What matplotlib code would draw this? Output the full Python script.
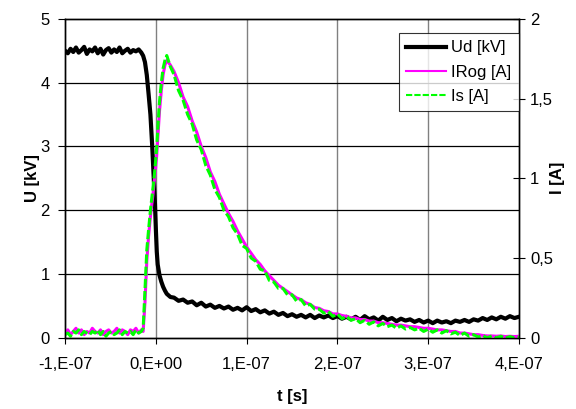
import numpy as np
import matplotlib
matplotlib.use("Agg")
import matplotlib.pyplot as plt

plt.rcParams['font.family'] = ['Liberation Sans', 'DejaVu Sans']

# time in ns (axis labelled in seconds)
t = [-100, -97, -94, -91, -88, -85, -82, -79, -76, -73, -70, -67, -64, -61, -58,
     -55, -52, -49, -46, -43, -40, -37, -34, -31, -28, -25, -22, -19, -16,
     -14, -12, -10, -8, -6, -4, -3, -2, -1, 0, 1, 2, 4, 6, 8, 10, 12, 16,
     20, 25, 30, 35, 40, 45, 50, 55, 60, 65, 70, 75, 80, 85, 90, 95, 100,
     105, 110, 115, 120, 125, 130, 135, 140, 145, 150, 155, 160, 165, 170,
     175, 180, 185, 190, 195, 200, 205, 210, 215, 220, 225, 230, 235, 240,
     245, 250, 255, 260, 265, 270, 275, 280, 285, 290, 295, 300, 305, 310,
     315, 320, 325, 330, 335, 340, 345, 350, 355, 360, 365, 370, 375, 380,
     385, 390, 395, 400]

ud_kv = [4.50, 4.46, 4.53, 4.48, 4.55, 4.47, 4.51, 4.56, 4.45, 4.52, 4.49, 4.55,
         4.46, 4.53, 4.44, 4.51, 4.54, 4.47, 4.52, 4.48, 4.55, 4.46, 4.50, 4.53,
         4.47, 4.51, 4.49, 4.52, 4.47,
         4.42, 4.32, 4.12, 3.82, 3.50, 3.00, 2.70, 2.40, 2.10, 1.70, 1.35, 1.15,
         0.98, 0.88, 0.80, 0.74, 0.69, 0.64,
         0.63, 0.58, 0.60, 0.55, 0.57, 0.51, 0.55, 0.49, 0.52, 0.47, 0.50, 0.46,
         0.49, 0.44, 0.47, 0.43, 0.48, 0.42, 0.45, 0.40, 0.43, 0.38, 0.41, 0.36,
         0.39, 0.34, 0.37, 0.33, 0.36, 0.32, 0.36, 0.31, 0.35, 0.32, 0.35, 0.31,
         0.34, 0.30, 0.33, 0.29, 0.33, 0.28, 0.34, 0.29, 0.32, 0.27, 0.33, 0.28,
         0.31, 0.26, 0.30, 0.27, 0.29, 0.25, 0.28, 0.24, 0.27, 0.23, 0.27, 0.24,
         0.26, 0.23, 0.27, 0.25, 0.28, 0.25, 0.29, 0.27, 0.31, 0.28, 0.32, 0.29,
         0.33, 0.30, 0.34, 0.31, 0.33]

irog_a = [0.03, 0.05, 0.02, 0.04, 0.06, 0.03, 0.05, 0.02, 0.04, 0.03, 0.06, 0.04,
          0.03, 0.05, 0.02, 0.04, 0.05, 0.03, 0.04, 0.06, 0.03, 0.05, 0.04, 0.02,
          0.05, 0.04, 0.06, 0.03, 0.05,
          0.04, 0.22, 0.48, 0.64, 0.76, 0.86, 0.91, 0.97, 1.02, 1.08, 1.15, 1.24,
          1.42, 1.55, 1.65, 1.71, 1.74, 1.71,
          1.67, 1.60, 1.51, 1.45, 1.36, 1.29, 1.20, 1.13, 1.04, 0.98, 0.90, 0.84,
          0.78, 0.73, 0.67, 0.62, 0.57, 0.53, 0.49, 0.46, 0.42, 0.39, 0.36, 0.33,
          0.31, 0.29, 0.27, 0.25, 0.24, 0.22, 0.21, 0.19, 0.185, 0.17, 0.165, 0.15,
          0.15, 0.14, 0.135, 0.125, 0.125, 0.115, 0.115, 0.105, 0.105, 0.095,
          0.095, 0.09, 0.085, 0.08, 0.08, 0.075, 0.07, 0.07, 0.065, 0.06, 0.06,
          0.055, 0.05, 0.05, 0.045, 0.04, 0.04, 0.03, 0.03, 0.025, 0.02, 0.02,
          0.015, 0.012, 0.012, 0.01, 0.012, 0.008, 0.01, 0.008, 0.01]

is_a = [0.02, 0.03, 0.01, 0.04, 0.03, 0.05, 0.02, 0.04, 0.03, 0.02, 0.04, 0.03,
        0.05, 0.02, 0.04, 0.01, 0.03, 0.04, 0.02, 0.03, 0.05, 0.02, 0.04, 0.03,
        0.04, 0.02, 0.05, 0.03, 0.04,
        0.06, 0.30, 0.55, 0.68, 0.80, 0.90, 0.95, 1.00, 1.06, 1.13, 1.20, 1.30,
        1.48, 1.60, 1.69, 1.74, 1.77, 1.70,
        1.65, 1.55, 1.49, 1.40, 1.34, 1.24, 1.18, 1.08, 1.02, 0.93, 0.88, 0.80,
        0.76, 0.69, 0.65, 0.58, 0.56, 0.50, 0.48, 0.43, 0.42, 0.36, 0.35, 0.31,
        0.31, 0.27, 0.27, 0.23, 0.24, 0.20, 0.21, 0.18, 0.18, 0.155, 0.165, 0.135,
        0.15, 0.12, 0.135, 0.11, 0.12, 0.095, 0.11, 0.085, 0.10, 0.075, 0.09,
        0.07, 0.08, 0.06, 0.075, 0.055, 0.065, 0.05, 0.06, 0.04, 0.055, 0.035,
        0.05, 0.03, 0.045, 0.025, 0.035, 0.015, 0.03, 0.01, 0.02, 0.005, 0.015,
        0.0, 0.012, 0.0, 0.01, -0.002, 0.008, 0.0, 0.005]

x_ticks = [-100, 0, 100, 200, 300, 400]
x_labels = ['-1,E-07', '0,E+00', '1,E-07', '2,E-07', '3,E-07', '4,E-07']
u_ticks = [0, 1, 2, 3, 4, 5]
i_ticks = [0, 0.5, 1, 1.5, 2]
i_labels = ['0', '0,5', '1', '1,5', '2']

fig = plt.figure(figsize=(5.76, 4.09), dpi=100)
ax = fig.add_axes([0.113, 0.174, 0.788, 0.780])
ax2 = ax.twinx()

l1, = ax.plot(t, ud_kv, color='black', lw=3.0, label='Ud [kV]')
l2, = ax2.plot(t, irog_a, color='#FF00FF', lw=2.2, label='IRog [A]')
l3, = ax2.plot(t, is_a, color='#00FF00', lw=2.2, ls=(0, (3, 1)), label='Is [A]')

ax.set_xlim(-100, 400)
ax.set_ylim(0, 5)
ax2.set_ylim(0, 2)

ax.set_xticks(x_ticks)
ax.set_xticklabels(x_labels)
ax.set_yticks(u_ticks)
ax2.set_yticks(i_ticks)
ax2.set_yticklabels(i_labels)

# grid: vertical grey, horizontal black
for xv in x_ticks[1:-1]:
    ax.axvline(xv, color='#808080', lw=1.0, zorder=0.5)
for yv in u_ticks[1:-1]:
    ax.axhline(yv, color='black', lw=0.9, zorder=0.5)

ax.tick_params(axis='x', direction='out', length=4, labelsize=12, pad=10)
ax.tick_params(axis='y', direction='out', length=5, labelsize=12, pad=6)
ax2.tick_params(axis='y', direction='inout', length=8, labelsize=12, pad=4)

for a in (ax, ax2):
    for s in a.spines.values():
        s.set_linewidth(1.0)
        s.set_color('black')

ax.set_xlabel('t [s]', fontsize=12, fontweight='bold', labelpad=12)
ax.set_ylabel('U [kV]', fontsize=12, fontweight='bold', labelpad=0)
ax2.set_ylabel('I [A]', fontsize=12, fontweight='bold', labelpad=-2)

leg = ax2.legend(handles=[l1, l2, l3], loc='upper right',
                 bbox_to_anchor=(1.0, 0.956), borderaxespad=0,
                 fontsize=12, frameon=True, fancybox=False,
                 handlelength=2.4, handletextpad=0.3, labelspacing=0.55,
                 borderpad=0.45)
leg.get_frame().set_edgecolor('black')
leg.get_frame().set_linewidth(0.8)
leg.legend_handles[1].set_linewidth(1.5)
leg.legend_handles[2].set_linewidth(1.5)

fig.savefig('out.png', dpi=100)
